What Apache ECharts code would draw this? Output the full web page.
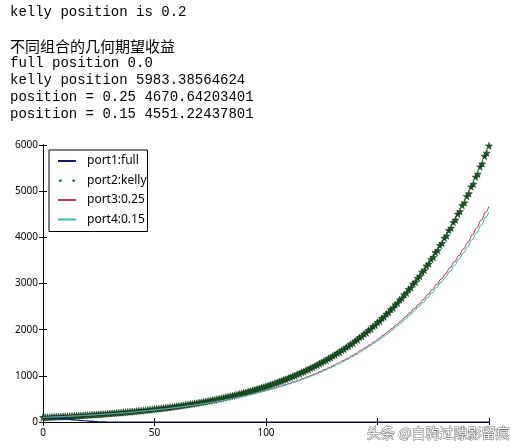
<!DOCTYPE html>
<html>
<head>
<meta charset="utf-8">
<script src="https://cdn.jsdelivr.net/npm/echarts@6/dist/echarts.min.js"></script>
<style>
  html, body { margin: 0; padding: 0; background: #fff; }
  #main { width: 511px; height: 448px; }
</style>
</head>
<body>
<div id="main"></div>
<script>
// printed output above the plot
const headerLines = [
  'kelly position is 0.2',
  '',
  '不同组合的几何期望收益',
  'full position 0.0',
  'kelly position 5983.38564624',
  'position = 0.25 4670.64203401',
  'position = 0.15 4551.22437801'
]

const seriesNames = ['port1:full', 'port2:kelly', 'port3:0.25', 'port4:0.15']

// port1: full position, goes bust
const port1 = [
  100, 92, 101, 88, 95, 80, 86, 72, 77, 63,
  68, 55, 58, 46, 50, 38, 41, 30, 33, 22,
  24, 15, 17, 9, 10, 4, 5, 1, 1, 0,
  0, 0, 0, 0, 0, 0, 0, 0, 0, 0,
  0, 0, 0, 0, 0, 0, 0, 0, 0, 0,
  0, 0, 0, 0, 0, 0, 0, 0, 0, 0,
  0, 0, 0, 0, 0, 0, 0, 0, 0, 0,
  0, 0, 0, 0, 0, 0, 0, 0, 0, 0,
  0, 0, 0, 0, 0, 0, 0, 0, 0, 0,
  0, 0, 0, 0, 0, 0, 0, 0, 0, 0,
  0, 0, 0, 0, 0, 0, 0, 0, 0, 0,
  0, 0, 0, 0, 0, 0, 0, 0, 0, 0,
  0, 0, 0, 0, 0, 0, 0, 0, 0, 0,
  0, 0, 0, 0, 0, 0, 0, 0, 0, 0,
  0, 0, 0, 0, 0, 0, 0, 0, 0, 0,
  0, 0, 0, 0, 0, 0, 0, 0, 0, 0,
  0, 0, 0, 0, 0, 0, 0, 0, 0, 0,
  0, 0, 0, 0, 0, 0, 0, 0, 0, 0,
  0, 0, 0, 0, 0, 0, 0, 0, 0, 0,
  0, 0, 0, 0, 0, 0, 0, 0, 0, 0,
  0
]

// port2: kelly position 0.2
const port2 = [
  100, 103, 102, 105, 109, 110, 114, 113, 117, 121,
  123, 126, 125, 129, 134, 135, 140, 139, 143, 148,
  151, 152, 157, 161, 162, 168, 171, 172, 178, 182,
  185, 190, 191, 197, 202, 203, 210, 212, 219, 221,
  228, 230, 237, 242, 244, 252, 255, 263, 266, 274,
  279, 285, 288, 297, 300, 310, 313, 322, 326, 336,
  343, 347, 357, 361, 372, 376, 388, 392, 404, 409,
  420, 426, 438, 444, 456, 462, 475, 481, 495, 502,
  515, 523, 537, 545, 560, 567, 583, 591, 607, 616,
  632, 641, 659, 668, 686, 696, 715, 725, 745, 755,
  775, 787, 808, 819, 842, 853, 877, 889, 914, 926,
  951, 965, 991, 1005, 1033, 1047, 1076, 1091, 1121, 1137,
  1167, 1184, 1216, 1233, 1267, 1285, 1320, 1338, 1375, 1394,
  1432, 1452, 1492, 1513, 1555, 1576, 1620, 1641, 1688, 1710,
  1758, 1781, 1832, 1855, 1909, 1932, 1989, 2013, 2072, 2097,
  2158, 2184, 2249, 2275, 2343, 2370, 2441, 2469, 2543, 2572,
  2648, 2679, 2759, 2791, 2874, 2908, 2994, 3029, 3119, 3156,
  3249, 3287, 3385, 3424, 3526, 3567, 3673, 3716, 3827, 3872,
  3986, 4033, 4153, 4201, 4326, 4377, 4507, 4560, 4695, 4750,
  4891, 4948, 5095, 5155, 5308, 5370, 5530, 5595, 5760, 5828,
  5983
]

// port3: position 0.25
const port3 = [
  100, 103, 103, 105, 108, 109, 113, 113, 116, 120,
  122, 124, 125, 128, 132, 133, 137, 138, 141, 145,
  147, 149, 153, 156, 158, 163, 165, 167, 172, 175,
  178, 182, 184, 189, 193, 195, 201, 203, 209, 211,
  217, 219, 225, 229, 232, 239, 241, 248, 251, 258,
  262, 268, 270, 279, 281, 290, 292, 301, 304, 312,
  318, 322, 331, 334, 345, 347, 358, 361, 372, 375,
  385, 390, 401, 405, 417, 421, 433, 437, 450, 455,
  467, 472, 486, 491, 505, 510, 525, 530, 546, 551,
  566, 572, 589, 595, 613, 618, 637, 642, 662, 667,
  686, 693, 714, 721, 743, 749, 772, 778, 802, 809,
  832, 840, 866, 873, 900, 907, 936, 942, 973, 979,
  1008, 1018, 1050, 1058, 1092, 1099, 1134, 1142, 1179, 1187,
  1222, 1233, 1273, 1282, 1323, 1332, 1375, 1384, 1429, 1438,
  1481, 1495, 1543, 1553, 1604, 1614, 1667, 1677, 1732, 1743,
  1795, 1811, 1870, 1882, 1944, 1956, 2020, 2033, 2099, 2112,
  2175, 2195, 2267, 2281, 2356, 2370, 2448, 2463, 2544, 2560,
  2636, 2660, 2747, 2764, 2855, 2873, 2967, 2985, 3083, 3102,
  3194, 3224, 3329, 3350, 3460, 3481, 3595, 3618, 3736, 3760,
  3871, 3907, 4035, 4060, 4193, 4219, 4357, 4385, 4528, 4556,
  4670
]

// port4: position 0.15
const port4 = [
  100, 102, 103, 105, 107, 109, 112, 113, 116, 119,
  122, 124, 125, 128, 131, 133, 136, 138, 141, 144,
  147, 149, 152, 155, 158, 162, 164, 167, 171, 174,
  177, 181, 183, 188, 192, 194, 200, 202, 208, 210,
  216, 218, 224, 228, 231, 238, 240, 247, 250, 257,
  260, 266, 268, 277, 279, 288, 290, 299, 302, 310,
  316, 320, 328, 331, 342, 344, 355, 358, 369, 372,
  382, 386, 397, 401, 413, 417, 429, 433, 446, 451,
  462, 467, 481, 486, 500, 505, 520, 525, 540, 545,
  559, 565, 582, 588, 606, 611, 630, 635, 654, 659,
  677, 684, 705, 712, 733, 739, 762, 768, 792, 799,
  820, 828, 854, 861, 887, 894, 923, 929, 959, 965,
  992, 1002, 1034, 1042, 1075, 1082, 1117, 1124, 1161, 1169,
  1202, 1213, 1252, 1261, 1301, 1310, 1352, 1361, 1405, 1414,
  1454, 1468, 1515, 1525, 1575, 1585, 1637, 1647, 1701, 1712,
  1761, 1776, 1834, 1846, 1907, 1918, 1981, 1994, 2059, 2071,
  2131, 2150, 2221, 2234, 2308, 2322, 2398, 2413, 2492, 2508,
  2579, 2602, 2687, 2704, 2793, 2811, 2903, 2920, 3016, 3035,
  3121, 3150, 3252, 3273, 3380, 3401, 3512, 3535, 3650, 3674,
  3777, 3812, 3937, 3962, 4091, 4117, 4252, 4279, 4418, 4446,
  4551
]

const toPairs = (arr) => arr.map((v, i) => [i, v])

// five-pointed star marker (echarts has no built-in star)
const STAR = 'path://M50,0 L61,35 L98,35 L68,57 L79,91 L50,70 L21,91 L32,57 L2,35 L39,35 Z'
// legend icon like matplotlib: two small stars at both ends, in a 180x100 box
// (tiny corner triangles only keep that box)
const STAR_PAIR = 'path://M0,0 L1,0 L0,1 Z M180,100 L179,100 L180,99 Z ' +
  'M23,29.5 L27.95,45.25 L44.6,45.25 L31.1,55.15 L36.05,70.45 L23,61 L9.95,70.45 L14.9,55.15 L1.4,45.25 L18.05,45.25 Z ' +
  'M157,29.5 L161.95,45.25 L178.6,45.25 L165.1,55.15 L170.05,70.45 L157,61 L143.95,70.45 L148.9,55.15 L135.4,45.25 L152.05,45.25 Z'

const chart = echarts.init(document.getElementById('main'))

// header text, one line every 17px
const header = headerLines.map((t, i) => {
  const isCjk = /[\u4e00-\u9fff]/.test(t)
  return {
    type: 'text',
    x: 10,
    y: 12.3 + i * 17,
    style: {
      text: t,
      fill: '#000',
      font: isCjk ? '15px "Noto Sans CJK SC"' : '14px "Liberation Mono"',
      verticalAlign: 'middle'
    }
  }
})

const tickAxis = {
  min: 0,
  axisLine: { show: true, lineStyle: { color: '#000', width: 1 } },
  axisTick: { show: true, inside: true, length: 4, lineStyle: { color: '#000' } },
  splitLine: { show: false }
}

const option = {
  animation: false,
  backgroundColor: '#fff',
  grid: { left: 43, right: 22, top: 145, bottom: 26 },
  legend: {
    orient: 'vertical',
    left: 49,
    top: 150,
    padding: [5, 1, 6, 8],
    itemWidth: 18,
    itemHeight: 10,
    itemGap: 7.5,
    borderColor: '#000',
    borderWidth: 1,
    borderRadius: 0,
    backgroundColor: '#fff',
    textStyle: { fontFamily: 'Noto Sans', fontSize: 12, color: '#000', padding: [0, 0, 0, 6] },
    data: [
      { name: seriesNames[0], itemStyle: { opacity: 0 } },
      { name: seriesNames[1], icon: STAR_PAIR, itemStyle: { borderWidth: 0 } },
      { name: seriesNames[2], itemStyle: { opacity: 0 } },
      { name: seriesNames[3], itemStyle: { opacity: 0 } }
    ]
  },
  xAxis: [
    {
      ...tickAxis,
      type: 'value',
      max: 200,
      interval: 50,
      axisLabel: { fontFamily: 'Noto Sans', fontSize: 10, color: '#000', margin: 6 }
    },
    {
      ...tickAxis,
      type: 'value',
      position: 'top',
      max: 200,
      interval: 50,
      axisLabel: { show: false }
    }
  ],
  yAxis: [
    {
      ...tickAxis,
      type: 'value',
      max: 6000,
      interval: 1000,
      axisLabel: {
        fontFamily: 'Noto Sans', fontSize: 10, color: '#000', margin: 5,
        formatter: (v) => String(v)
      }
    },
    {
      ...tickAxis,
      type: 'value',
      position: 'right',
      max: 6000,
      interval: 1000,
      axisLabel: { show: false }
    }
  ],
  series: [
    {
      name: seriesNames[0],
      type: 'line',
      data: toPairs(port1),
      symbol: 'none',
      lineStyle: { color: '#16166e', width: 1.2 },
      itemStyle: { color: '#16166e' }
    },
    {
      name: seriesNames[1],
      type: 'scatter',
      data: toPairs(port2),
      symbol: STAR,
      symbolSize: 7,
      itemStyle: { color: '#145f22', borderColor: '#0a260f', borderWidth: 0.5, opacity: 1 }
    },
    {
      name: seriesNames[2],
      type: 'line',
      data: toPairs(port3),
      symbol: 'none',
      lineStyle: { color: '#c2384a', width: 1 },
      itemStyle: { color: '#c2384a' }
    },
    {
      name: seriesNames[3],
      type: 'line',
      data: toPairs(port4),
      symbol: 'none',
      lineStyle: { color: '#3bbcbc', width: 1 },
      itemStyle: { color: '#3bbcbc' }
    }
  ],
  graphic: [
    ...header,
    {
      type: 'rect',
      z: 99,
      shape: { x: 364, y: 425, width: 140, height: 18 },
      style: { fill: '#fff' }
    },
    {
      type: 'text',
      x: 367,
      y: 433,
      z: 100,
      style: {
        text: '头条 @白驹过隙影留痕',
        font: '14px "Noto Sans CJK SC"',
        fill: '#ffffff',
        stroke: '#6e6e6e',
        lineWidth: 1,
        verticalAlign: 'middle'
      }
    }
  ]
}

chart.setOption(option)
</script>
</body>
</html>
